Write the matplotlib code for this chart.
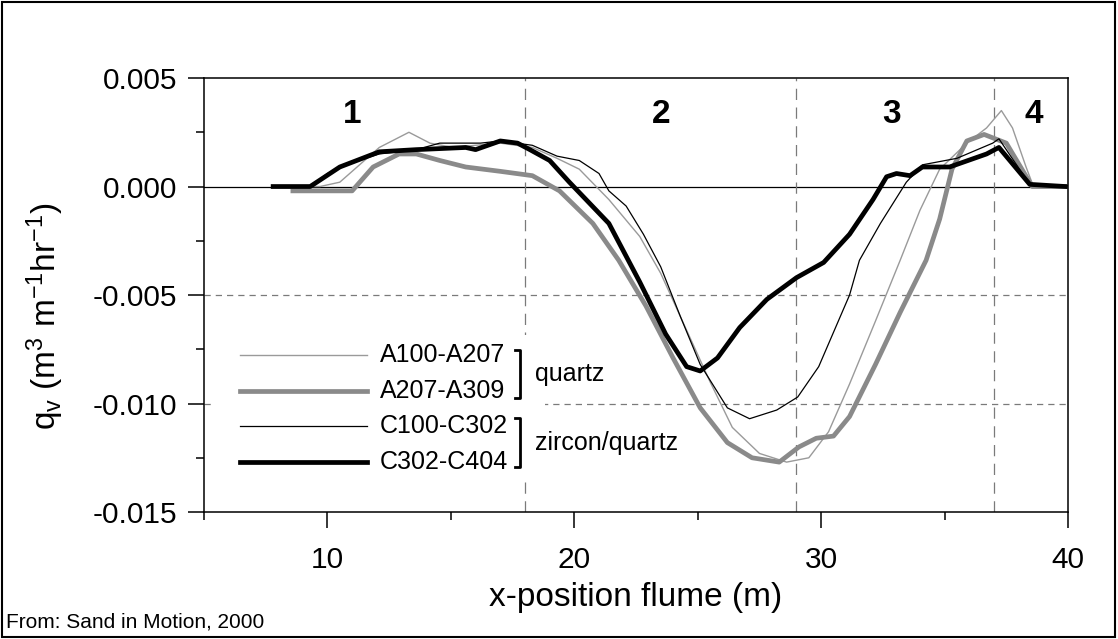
import matplotlib.pyplot as plt
from matplotlib.lines import Line2D
from matplotlib.patches import Rectangle
from matplotlib.ticker import MultipleLocator, FormatStrFormatter

plt.rcParams['font.family'] = ['Liberation Sans', 'DejaVu Sans']
plt.rcParams['mathtext.fontset'] = 'custom'
plt.rcParams['mathtext.rm'] = 'Liberation Sans'
plt.rcParams['mathtext.it'] = 'Liberation Sans'
plt.rcParams['axes.unicode_minus'] = False

# A100-A207 (thin grey)
a1_x = [7.8, 9.7, 10.5, 11.2, 12.1, 13.3, 14.15, 15.1, 16.0, 17.0, 18.3, 19.3, 20.2,
        21.4, 22.65, 23.5, 24.5, 25.5, 26.4, 27.5, 28.6, 29.5, 30.3, 31.15, 32.2, 33.2,
        34.0, 34.8, 35.9, 36.7, 37.3, 37.75, 38.3, 38.6, 39.9]
a1_y = [0, 0, 0.0002, 0.0009, 0.0018, 0.0025, 0.0020, 0.0018, 0.0019, 0.0020, 0.0018,
        0.0013, 0.0008, -0.0006, -0.0023, -0.0040, -0.0065, -0.0090, -0.0111, -0.0123,
        -0.0127, -0.0125, -0.0113, -0.0091, -0.0062, -0.0034, -0.0011, 0.0008, 0.0020,
        0.0027, 0.0035, 0.0027, 0.0009, 0.0, 0.0]

# A207-A309 (thick grey)
a2_x = [8.6, 11.0, 11.85, 12.9, 13.6, 14.55, 15.6, 17.0, 18.3, 19.4, 20.75, 21.8, 22.9,
        24.0, 25.1, 26.2, 27.2, 28.3, 29.1, 29.8, 30.5, 31.15, 32.2, 33.2, 34.25, 34.8,
        35.3, 35.9, 36.6, 37.5, 38.55, 39.9]
a2_y = [-0.0002, -0.0002, 0.0009, 0.0015, 0.0015, 0.0012, 0.0009, 0.0007, 0.0005,
        -0.0002, -0.0017, -0.0034, -0.0055, -0.0079, -0.0102, -0.0118, -0.0125, -0.0127,
        -0.0120, -0.0116, -0.0115, -0.0106, -0.0082, -0.0058, -0.0034, -0.0015, 0.0008,
        0.0021, 0.0024, 0.0020, 0.0, 0.0]

# C100-C302 (thin black)
c1_x = [7.8, 9.3, 10.0, 11.0, 12.1, 13.6, 14.55, 16.2, 17.0, 18.3, 19.3, 20.2, 21.0,
        21.4, 22.1, 22.8, 23.5, 24.3, 25.1, 26.2, 27.1, 28.2, 29.05, 29.9, 31.15, 31.55,
        32.4, 33.45, 34.1, 35.5, 36.95, 37.2, 38.45, 39.9]
c1_y = [0, 0, 0.0006, 0.0011, 0.0015, 0.0017, 0.0020, 0.0020, 0.0021, 0.0019, 0.0014,
        0.0012, 0.0006, -0.0002, -0.0009, -0.0022, -0.0037, -0.0060, -0.0082, -0.0102,
        -0.0107, -0.0103, -0.0097, -0.0083, -0.0050, -0.0034, -0.0017, 0.0002, 0.0010,
        0.0013, 0.0020, 0.0022, 0.0001, 0.0]

# C302-C404 (thick black)
c2_x = [7.8, 9.3, 10.5, 12.1, 13.6, 15.6, 16.0, 17.0, 17.7, 18.2, 19.0, 19.8, 21.4,
        22.65, 23.7, 24.55, 25.1, 25.8, 26.7, 27.8, 29.0, 30.1, 31.15, 32.1, 32.65, 33.05,
        33.6, 34.1, 35.2, 36.7, 37.2, 38.45, 39.9]
c2_y = [0, 0, 0.0009, 0.0016, 0.0017, 0.0018, 0.0017, 0.0021, 0.0020, 0.0017, 0.0012,
        0.0002, -0.0017, -0.0044, -0.0068, -0.0083, -0.0085, -0.0079, -0.0065, -0.0052,
        -0.0042, -0.0035, -0.0022, -0.0006, 0.00045, 0.0006, 0.0005, 0.0009, 0.0009,
        0.0015, 0.0018, 0.0001, 0.0]

series_names = ['A100-A207', 'A207-A309', 'C100-C302', 'C302-C404']
zone_labels = ['1', '2', '3', '4']
zone_x = [11.0, 23.5, 32.85, 38.6]
zone_bounds = [18, 29, 37]

fig = plt.figure(figsize=(11.18, 6.39), dpi=100)
ax = fig.add_axes([0.1825, 0.1987, 0.7728, 0.6792])

styles = [('#9a9a9a', 1.0), ('#8a8a8a', 3.4), ('black', 0.9), ('black', 3.4)]
data = [(a1_x, a1_y), (a2_x, a2_y), (c1_x, c1_y), (c2_x, c2_y)]

ax.axhline(0, color='black', lw=0.9, zorder=1)
for yv in (-0.005, -0.010):
    ax.axhline(yv, color='#7a7a7a', lw=0.9, ls=(0, (5, 4)), zorder=1)
for xv in zone_bounds:
    ax.axvline(xv, color='#7a7a7a', lw=0.9, ls=(0, (9, 6)), zorder=1)

# white box behind the legend
ax.add_patch(Rectangle((0.013, 0.074), 0.382, 0.334, transform=ax.transAxes,
                       facecolor='white', edgecolor='none', zorder=2))

for (xs, ys), (c, w) in zip(data, styles):
    ax.plot(xs, ys, color=c, lw=w, zorder=4)

for lab, xv in zip(zone_labels, zone_x):
    ax.text(xv, 0.0033, lab, fontsize=24, fontweight='bold', ha='center', va='center')

# legend
leg_y = [0.3618, 0.2788, 0.1982, 0.1152]
for name, yy, (c, w) in zip(series_names, leg_y, styles):
    ax.add_line(Line2D([0.0417, 0.1887], [yy, yy], transform=ax.transAxes,
                       color=c, lw=w, zorder=5))
    ax.text(0.2037, yy, name, transform=ax.transAxes, fontsize=18, va='center',
            ha='left', zorder=5)

for y0, y1, lab in [(0.3733, 0.2627, 'quartz'), (0.2166, 0.1037, 'zircon/quartz')]:
    ax.add_line(Line2D([0.3600, 0.3657, 0.3657, 0.3600], [y0, y0, y1, y1],
                       transform=ax.transAxes, color='black', lw=2.0, zorder=5))
    ax.text(0.383, (y0 + y1) / 2, lab, transform=ax.transAxes, fontsize=18,
            va='center', ha='left', zorder=5)

ax.set_xlim(5, 40)
ax.set_ylim(-0.015, 0.005)
ax.xaxis.set_major_locator(MultipleLocator(10))
ax.xaxis.set_minor_locator(MultipleLocator(5))
ax.yaxis.set_major_locator(MultipleLocator(0.005))
ax.yaxis.set_minor_locator(MultipleLocator(0.0025))
ax.yaxis.set_major_formatter(FormatStrFormatter('%.3f'))
ax.tick_params(which='major', direction='out', length=11.5, width=1.1, labelsize=21.5, pad=8)
ax.tick_params(axis='x', which='major', pad=13)
ax.tick_params(which='minor', direction='out', length=5.5, width=1.1)
ax.tick_params(top=False, right=False)
for sp in ax.spines.values():
    sp.set_linewidth(1.1)

ax.set_xlabel('x-position flume (m)', fontsize=24, labelpad=6)
ax.set_ylabel(r'q$_\mathrm{v}$ (m$^3$ m$^{-1}$hr$^{-1}$)', fontsize=24)
ax.yaxis.set_label_coords(-0.16, 0.45)

fig.text(0.005, 0.012, 'From: Sand in Motion, 2000', fontsize=15, ha='left', va='bottom')
fig.patches.append(Rectangle((0.002, 0.003), 0.995, 0.994, transform=fig.transFigure,
                             fill=False, edgecolor='black', lw=1.5))

fig.savefig('out.png', dpi=100)
